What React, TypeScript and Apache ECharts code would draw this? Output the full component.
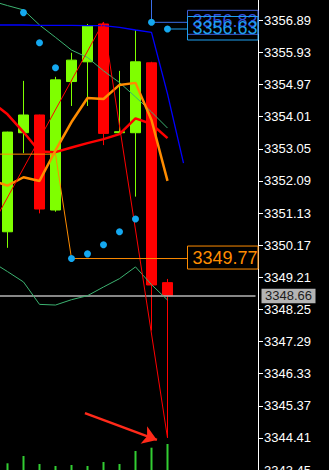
import React, { useEffect, useRef } from 'react';
import * as echarts from 'echarts';

// ---- data ----
const categories = ['14:00','14:05','14:10','14:15','14:20','14:25','14:30','14:35','14:40','14:45','14:50','14:55','15:00','15:05','15:10','15:15'];
const opens  = [3350.57, 3353.53, 3354.06, 3351.22, 3355.06, 3355.65, 3356.78, 3353.53, 3353.53, 3355.62, 3349.05];
const closes = [3353.55, 3354.06, 3351.25, 3355.11, 3355.70, 3356.72, 3353.51, 3353.56, 3355.65, 3348.98, 3348.66];
const lows   = [3350.09, 3352.92, 3351.12, 3351.17, 3354.33, 3354.33, 3353.16, 3353.50, 3351.62, 3347.62, 3344.41];
const highs  = [3353.56, 3355.08, 3354.07, 3355.20, 3355.92, 3356.78, 3356.84, 3355.38, 3356.60, 3355.65, 3349.16];
const volumes = [67, 140, 60, 40, 50, 40, 80, 60, 190, 223, 260];

const maRedEdge = 3354.27;
const maRed = [3354.08, 3353.55, 3352.97, 3352.95, 3353.09, 3353.22, 3353.34, 3353.49, 3353.96, 3353.79, 3353.37];
const maOrangeEdge = 3352.03;
const maOrange = [3351.95, 3352.20, 3352.09, 3353.00, 3353.85, 3354.57, 3354.54, 3354.96, 3355.02, 3353.91, 3352.09];
const bandUpperEdge = 3357.40;
const bandUpper = [3357.33, 3357.20, 3356.75, 3356.38, 3356.00, 3355.78, 3355.38, 3355.03, 3354.60, 3354.15, 3353.67];
const bandLowerEdge = 3349.53;
const bandLower = [3349.38, 3349.07, 3348.40, 3348.38, 3348.54, 3348.66, 3348.92, 3349.17, 3349.52, 3348.99, 3348.53];
const blueEdge = 3356.75;
const blueLine = [3356.75, 3356.75, 3356.74, 3356.74, 3356.74, 3356.73, 3356.73, 3356.68, 3356.60, 3356.53, 3354.69, 3352.62];
const sar = [null, 3357.12, 3356.22, 3355.47, 3349.77, 3349.91, 3350.18, 3350.57, 3350.95, 3356.83, 3356.63];

const zigzagX = [-0.5, 6, 10];
const zigzagY = [3351.16, 3356.84, 3344.41];
const orangeLevelX = [-0.5, 3, 4, 11.22];
const orangeLevelY = [3352.89, 3352.89, 3349.77, 3349.77];
const blueLevelX = [9, 9, 11.22];
const blueLevelY = [3357.7, 3356.83, 3356.83];
const cyanLevelX = [10, 11.22];
const cyanLevelY = [3356.63, 3356.63];
const arrowFrom = [4.84, 3345.15];
const arrowTo = [9.34, 3344.35];

const currentPrice = 3348.66;
const orangeLabel = 3349.77;
const blueLabel = 3356.83;
const cyanLabel = 3356.63;

const tickValues = [3343.45, 3344.41, 3345.37, 3346.33, 3347.29, 3348.25, 3349.21, 3350.17, 3351.13, 3352.09, 3353.05, 3354.01, 3354.97, 3355.93, 3356.89];
const yMin = 3343.45;
const yMax = 3357.497;

const withEdge = (edge: number, vals: number[]) => [[-0.5, edge], ...vals.map((v, i) => [i, v])];
const zipXY = (xs: number[], ys: number[]) => xs.map((x, i) => [x, ys[i]]);

const FONT = 'Liberation Sans';

function lineSeries(name: string, data: any[], color: string, width: number, z = 5) {
  return {
    name, type: 'line', xAxisIndex: 1, yAxisIndex: 0, data,
    showSymbol: false, symbol: 'none', silent: true, z,
    lineStyle: { color, width }, clip: true,
  };
}

export default function App() {
  const ref = useRef<HTMLDivElement>(null);
  useEffect(() => {
    const chart = echarts.init(ref.current as HTMLDivElement, null, { renderer: 'svg' });
    const candleData = opens.map((o, i) => [o, closes[i], lows[i], highs[i]]);
    const option: any = {
      animation: false,
      backgroundColor: '#000',
      grid: { left: -0.5, top: 0, width: 256, height: 470, containLabel: false, outerBoundsMode: 'none' },
      xAxis: [
        { type: 'category', data: categories, boundaryGap: true, show: false },
        { type: 'value', min: -0.5, max: 15.5, show: false },
      ],
      yAxis: [
        {
          type: 'value', position: 'right', offset: 2.5, min: yMin, max: yMax, scale: true,
          axisLine: { show: true, onZero: false, lineStyle: { color: '#ffffff', width: 1 } },
          axisTick: { show: true, length: 5, lineStyle: { color: '#ffffff' }, customValues: tickValues },
          axisLabel: {
            show: true, color: '#ffffff', fontFamily: FONT, fontSize: 13, margin: 6,
            customValues: tickValues,
            formatter: (v: number) => v.toFixed(2),
          },
          splitLine: { show: false },
        },
        { type: 'value', min: 0, max: 4700, show: false, axisLine: { onZero: false } },
      ],
      series: [
        {
          name: 'Volume', type: 'bar', xAxisIndex: 0, yAxisIndex: 1, data: volumes,
          barWidth: 2, itemStyle: { color: '#32cd32' }, silent: true, z: 1,
        },
        {
          name: 'Price', type: 'candlestick', xAxisIndex: 0, yAxisIndex: 0, data: candleData,
          barWidth: 10, silent: true, z: 2,
          itemStyle: {
            color: '#7fff00', color0: '#ff0000',
            borderColor: '#7fff00', borderColor0: '#ff0000', borderWidth: 1,
          },
          markLine: {
            silent: true, symbol: 'none', animation: false,
            label: { show: false },
            lineStyle: { color: '#b4b4b4', width: 1.5, type: 'solid' },
            data: [{ yAxis: currentPrice }],
          },
        },
        lineSeries('Band upper', withEdge(bandUpperEdge, bandUpper), '#3cb371', 1),
        lineSeries('Band lower', withEdge(bandLowerEdge, bandLower), '#3cb371', 1),
        lineSeries('MA red', withEdge(maRedEdge, maRed), '#ff0000', 2.5),
        lineSeries('MA orange', withEdge(maOrangeEdge, maOrange), '#ff8c00', 2.5),
        lineSeries('Blue', withEdge(blueEdge, blueLine), '#0000ff', 1.3),
        {
          ...lineSeries('ZigZag', zipXY(zigzagX, zigzagY), '#ff0000', 1, 6),
          markLine: {
            silent: true, animation: false,
            symbol: ['none', 'arrow'], symbolSize: 14,
            label: { show: false },
            lineStyle: { color: '#ff2a1a', width: 2.5, type: 'solid' },
            data: [[{ coord: arrowFrom }, { coord: arrowTo }]],
          },
        },
        lineSeries('Orange level', zipXY(orangeLevelX, orangeLevelY), '#ff8c00', 1, 6),
        lineSeries('Blue level', zipXY(blueLevelX, blueLevelY), '#3a6ee8', 1, 6),
        lineSeries('Cyan level', zipXY(cyanLevelX, cyanLevelY), '#1ea0f0', 1, 6),
        {
          name: 'SAR', type: 'scatter', xAxisIndex: 0, yAxisIndex: 0, data: sar,
          symbol: 'circle', symbolSize: 7, silent: true, z: 8,
          itemStyle: { color: '#14a8f0', opacity: 1 },
        },
      ],
    };
    chart.setOption(option);

    const yp = (v: number) => chart.convertToPixel({ yAxisIndex: 0 }, v) as number;
    const axisX = 258;
    const boxX = 187.5;
    const boxW = axisX - boxX;
    const yo = yp(orangeLabel);
    const yb = yp(blueLabel);
    const yc = yp(cyanLabel);
    const yg = yp(currentPrice);
    chart.setOption({
      graphic: [
        { type: 'rect', z: 100, shape: { x: boxX, y: yb - 12, width: boxW, height: 24 }, style: { fill: '#000', stroke: '#3d5fd9', lineWidth: 1 } },
        { type: 'text', z: 101, x: boxX + 5, y: yb - 1, style: { text: blueLabel.toFixed(2), fill: '#3350dd', font: `18px "${FONT}"`, verticalAlign: 'middle' } },
        { type: 'rect', z: 102, shape: { x: boxX, y: yc - 12.5, width: boxW, height: 23.5 }, style: { fill: 'none', stroke: '#1ea0f0', lineWidth: 1 } },
        { type: 'text', z: 103, x: boxX + 5, y: yc - 1, style: { text: cyanLabel.toFixed(2), fill: '#1ea0f0', font: `18px "${FONT}"`, verticalAlign: 'middle' } },
        { type: 'rect', z: 100, shape: { x: boxX, y: yo - 12.5, width: boxW, height: 23 }, style: { fill: '#000', stroke: '#ff8c00', lineWidth: 1 } },
        { type: 'text', z: 101, x: boxX + 5, y: yo - 0.5, style: { text: orangeLabel.toFixed(2), fill: '#ff8c00', font: `18px "${FONT}"`, verticalAlign: 'middle' } },
        { type: 'rect', z: 100, shape: { x: axisX + 3.5, y: yg - 7, width: 54, height: 14.5 }, style: { fill: '#b4b4b4' } },
        { type: 'text', z: 101, x: axisX + 7, y: yg + 0.3, style: { text: currentPrice.toFixed(2), fill: '#1c1c1c', font: `13px "${FONT}"`, verticalAlign: 'middle' } },
      ],
    });
    return () => chart.dispose();
  }, []);
  return (
    <div
      ref={ref}
      style={{ position: 'fixed', left: 0, top: 0, width: 329, height: 470, background: '#000' }}
    />
  );
}
